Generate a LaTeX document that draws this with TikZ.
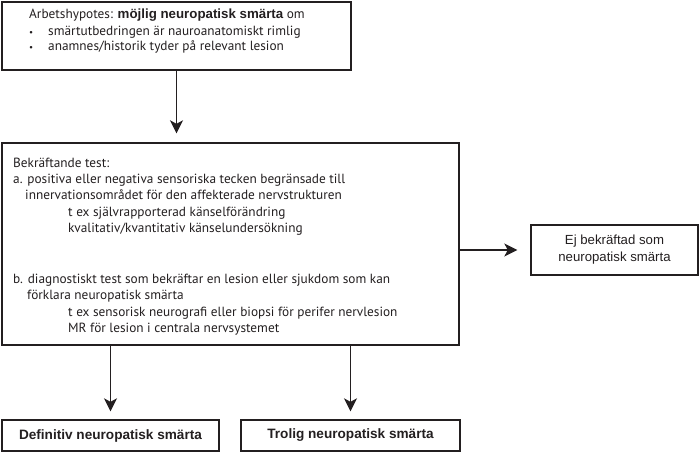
\documentclass[tikz,border=0pt]{standalone}
\usepackage{fontspec}
\setmainfont{PT Sans}
\newfontfamily\arial{Liberation Sans}
\usetikzlibrary{arrows.meta}
\definecolor{ink}{HTML}{231F20}
\begin{document}
\begin{tikzpicture}[x=1pt,y=-1pt,
  box/.style={draw=ink,line width=1.4pt,minimum width=#1,inner sep=0pt},
  txt/.style={anchor=base west,inner sep=0pt,font=\fontsize{13.3}{14}\selectfont,text=ink},
  arr/.style={draw=ink,line width=1.4pt,-{Stealth[length=13pt,width=13pt,inset=3.5pt]}},
  atxt/.style={font=\arial\fontsize{13.2}{17}\selectfont,text=ink}]
\useasboundingbox (0,0) rectangle (700,452);
% boxes
\node[box=349pt,minimum height=68pt] (top) at (176.5,36) {};
\node[box=457pt,minimum height=202pt] (main) at (230.5,244) {};
\node[box=167pt,minimum height=50pt,atxt,align=center] (right) at (614.5,250) {Ej bekräftad som\\neuropatisk smärta};
\node[box=217pt,minimum height=31pt,atxt,font=\arial\bfseries\fontsize{13.6}{14}\selectfont] (def) at (110.5,435.5) {Definitiv neuropatisk smärta};
\node[box=219pt,minimum height=31pt,atxt,font=\arial\bfseries\fontsize{13.6}{14}\selectfont] (trol) at (350.5,435.5) {Trolig neuropatisk smärta};
% top text
\node[txt] (t1) at (29,19) {Arbetshypotes: {\arial\bfseries\fontsize{13.3}{14}\selectfont möjlig neuropatisk smärta} om};
\node[txt] (b1) at (29,36) {\small•};
\node[txt] (t2) at (48,36) {smärtutbedringen är nauroanatomiskt rimlig};
\node[txt] (b2) at (29,51) {\small•};
\node[txt] (t3) at (48,51) {anamnes/historik tyder på relevant lesion};
% main text
\node[txt] (m1) at (13,167) {Bekräftande test:};
\node[txt] (m2) at (13,183) {a. positiva eller negativa sensoriska tecken begränsade till};
\node[txt] (m3) at (25,199) {innervationsområdet för den affekterade nervstrukturen};
\node[txt] (m4) at (68,216) {t ex självrapporterad känselförändring};
\node[txt] (m5) at (68,232) {kvalitativ/kvantitativ känselundersökning};
\node[txt] (m6) at (13,283) {b. diagnostiskt test som bekräftar en lesion eller sjukdom som kan};
\node[txt] (m7) at (27,299) {förklara neuropatisk smärta};
\node[txt] (m8) at (68,316) {t ex sensorisk neurografi eller biopsi för perifer nervlesion};
\node[txt] (m9) at (68,332) {MR för lesion i centrala nervsystemet};
% arrows
\draw[arr,shorten >=9pt] (top.south) -- (top.south |- main.north);
\draw[arr,shorten >=13pt] (main.east |- right.west) -- (right.west);
\draw[arr,shorten >=8pt] (main.south -| def.north) -- (def.north);
\draw[arr,shorten >=8pt] (main.south -| trol.north) -- (trol.north);
\end{tikzpicture}
\end{document}
